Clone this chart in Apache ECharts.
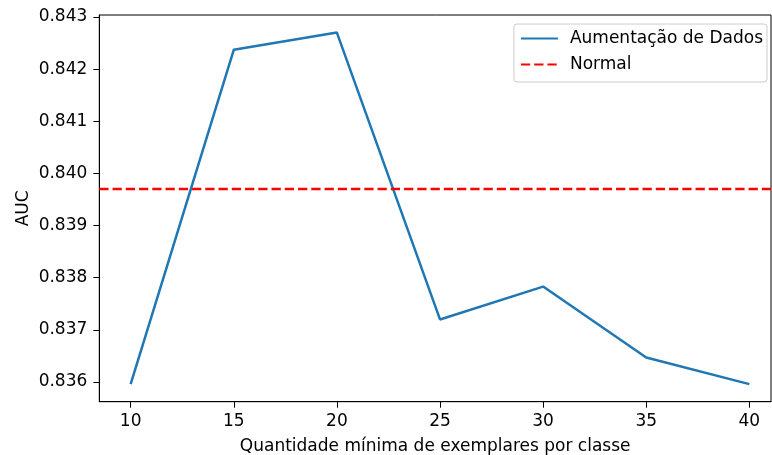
<!DOCTYPE html>
<html>
<head>
<meta charset="utf-8">
<script src="https://cdn.jsdelivr.net/npm/echarts@6/dist/echarts.min.js"></script>
<style>
html,body{margin:0;padding:0;background:#fff;}
#chart{width:772px;height:455px;}
</style>
</head>
<body>
<div id="chart"></div>
<script>
const categories = [10, 15, 20, 25, 30, 35, 40];
const aumentacaoValues = [0.83596, 0.84237, 0.84270, 0.83720, 0.83783, 0.83647, 0.83596];
const normalValue = 0.83970;
const xTicks = [10, 15, 20, 25, 30, 35, 40];
const yTicks = [0.836, 0.837, 0.838, 0.839, 0.840, 0.841, 0.842, 0.843];

const FONT = 'DejaVu Sans';
const FS = 17;

const X_MIN = 8.48, X_MAX = 41.05;
const dMin = Math.min(...aumentacaoValues), dMax = Math.max(...aumentacaoValues);
const pad = (dMax - dMin) * 0.05;

const chart = echarts.init(document.getElementById('chart'), null, {renderer: 'canvas'});
chart.setOption({
  animation: false,
  textStyle: {fontFamily: FONT},
  grid: {left: 99.3, top: 15, right: 1, bottom: 53.3, outerBoundsMode: 'none', containLabel: false,
         show: true, borderColor: '#000', borderWidth: 1, backgroundColor: 'transparent'},
  legend: {
    orient: 'vertical',
    right: 5, top: 24,
    padding: [6, 4, 9, 6],
    itemWidth: 37, itemHeight: 14, itemGap: 9,
    backgroundColor: 'rgba(255,255,255,0.8)',
    borderColor: '#cccccc', borderWidth: 1, borderRadius: 3,
    itemStyle: {opacity: 0},
    textStyle: {fontFamily: FONT, fontSize: FS, color: '#000', lineHeight: 17, padding: [0,0,0,7]},
    data: ['Aumentação de Dados', 'Normal']
  },
  xAxis: {
    type: 'value',
    min: X_MIN, max: X_MAX,
    name: 'Quantidade mínima de exemplares por classe',
    nameLocation: 'middle', nameGap: 36,
    nameTextStyle: {fontFamily: FONT, fontSize: FS, color: '#000'},
    axisLine: {show: true, onZero: false, lineStyle: {color: '#000', width: 1}},
    axisTick: {show: true, length: 6, lineStyle: {color: '#000'}, customValues: xTicks},
    axisLabel: {show: true, margin: 11, fontFamily: FONT, fontSize: FS, color: '#000', customValues: xTicks, formatter: v => String(v)},
    splitLine: {show: false}
  },
  yAxis: {
    type: 'value',
    min: dMin - pad, max: dMax + pad,
    name: 'AUC',
    nameLocation: 'middle', nameGap: 67, nameRotate: 90,
    nameMoveOverlap: false,
    nameTextStyle: {fontFamily: FONT, fontSize: FS, color: '#000'},
    axisLine: {show: true, onZero: false, lineStyle: {color: '#000', width: 1}},
    axisTick: {show: true, length: 6, lineStyle: {color: '#000'}, customValues: yTicks},
    axisLabel: {show: true, margin: 12, fontFamily: FONT, fontSize: FS, color: '#000', customValues: yTicks, formatter: v => v.toFixed(3)},
    splitLine: {show: false}
  },
  series: [
    {
      name: 'Aumentação de Dados',
      type: 'line',
      data: categories.map((c, i) => [c, aumentacaoValues[i]]),
      showSymbol: false, symbol: 'none',
      lineStyle: {color: '#1f77b4', width: 2.5},
      itemStyle: {color: '#1f77b4'},
      emphasis: {disabled: true},
      z: 3
    },
    {
      name: 'Normal',
      type: 'line',
      data: [[X_MIN, normalValue], [X_MAX, normalValue]],
      showSymbol: false, symbol: 'none',
      lineStyle: {color: '#ff0000', width: 2.5, type: [9.25, 4]},
      itemStyle: {color: '#ff0000'},
      emphasis: {disabled: true},
      z: 4
    }
  ]
});
</script>
</body>
</html>
